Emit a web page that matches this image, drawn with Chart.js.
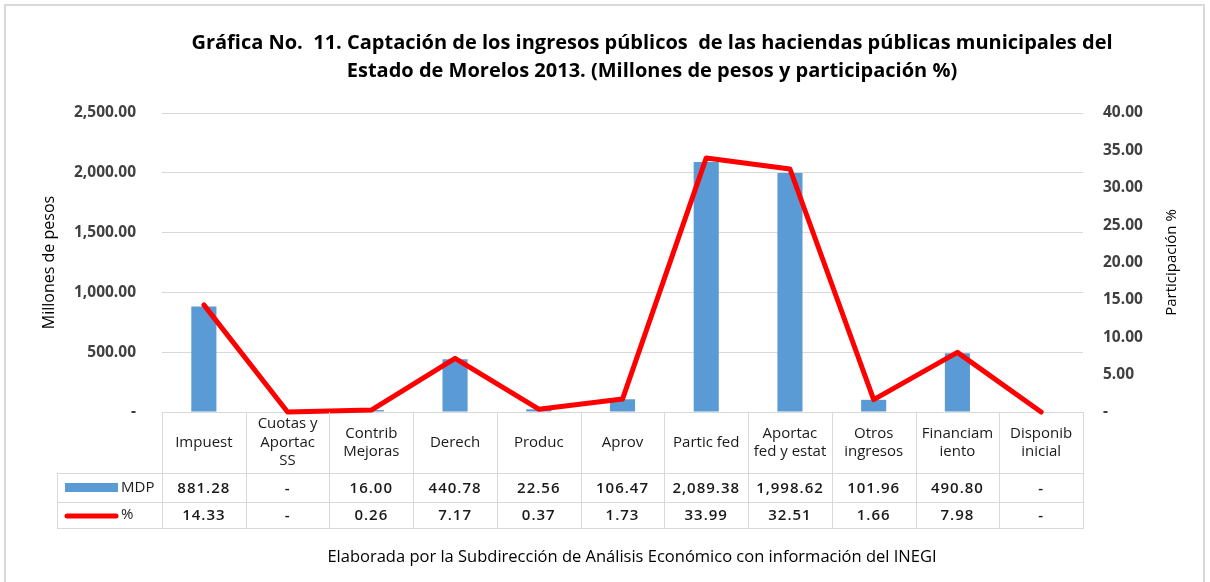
<!DOCTYPE html>
<html>
<head>
<meta charset="utf-8">
<script src="https://cdn.jsdelivr.net/npm/chart.js@4.4.1/dist/chart.umd.min.js"></script>
<style>
  body { margin: 0; background: #fff; }
  #wrap { position: relative; width: 1210px; height: 582px; overflow: hidden; }
  #frame { position: absolute; left: 4px; top: 4px; width: 1201px; height: 640px; border: 2px solid #d9d9d9; box-sizing: border-box; }
  #title { position: absolute; left: 94px; width: 1116px; top: 28px; text-align: center;
           font: bold 20px "Open Sans"; line-height: 28px; color: #000; }
  #foot { position: absolute; left: 54px; width: 1156px; top: 545px; text-align: center;
          font: 16.5px "Open Sans"; line-height: 22px; color: #000; }
  canvas { position: absolute; left: 0; top: 0; }
</style>
</head>
<body>
<div id="wrap">
  <div id="frame"></div>
  <canvas id="chart" width="1210" height="582"></canvas>
  <div id="title">Gráfica No.&nbsp; 11. Captación de los ingresos públicos&nbsp; de las haciendas públicas municipales del<br>Estado de Morelos 2013. (Millones de pesos y participación %)</div>
  <div id="foot">Elaborada por la Subdirección de Análisis Económico con información del INEGI</div>
</div>
<script>
// categories as they appear in the table header
const categories = [
  ["Impuest"],
  ["Cuotas y", "Aportac", "SS"],
  ["Contrib", "Mejoras"],
  ["Derech"],
  ["Produc"],
  ["Aprov"],
  ["Partic fed"],
  ["Aportac", "fed y estat"],
  ["Otros", "ingresos"],
  ["Financiam", "iento"],
  ["Disponib", "inicial"]
];
const mdp = [881.28, 0, 16.00, 440.78, 22.56, 106.47, 2089.38, 1998.62, 101.96, 490.80, 0];
const pct = [14.33, 0, 0.26, 7.17, 0.37, 1.73, 33.99, 32.51, 1.66, 7.98, 0];

const blue = "#5b9bd5";
const red = "#ff0000";
const gridColor = "#d9d9d9";

function fmt(v) {
  if (v === 0) return "-";
  return v.toLocaleString("en-US", { minimumFractionDigits: 2, maximumFractionDigits: 2 });
}

// draws the data table under the plot, lined up with the x scale
const tablePlugin = {
  id: "dataTable",
  afterDraw(chart) {
    const ctx = chart.ctx;
    const xs = chart.scales.x;
    const area = chart.chartArea;
    const top = area.bottom;
    const r1 = top + 61, r2 = r1 + 29, r3 = r2 + 26;
    const legLeft = 57;
    const half = (xs.getPixelForValue(1) - xs.getPixelForValue(0)) / 2;

    ctx.save();
    ctx.strokeStyle = gridColor;
    ctx.lineWidth = 1;
    ctx.beginPath();
    [r1, r2, r3].forEach(y => { ctx.moveTo(legLeft, y + 0.5); ctx.lineTo(area.right + 1, y + 0.5); });
    ctx.moveTo(legLeft + 0.5, r1); ctx.lineTo(legLeft + 0.5, r3);
    categories.forEach((c, i) => {
      const bx = Math.round(xs.getPixelForValue(i) - half) + 0.5;
      ctx.moveTo(bx, top); ctx.lineTo(bx, r3);
    });
    ctx.moveTo(Math.round(area.right) + 0.5, top); ctx.lineTo(Math.round(area.right) + 0.5, r3);
    ctx.stroke();

    // header labels
    ctx.fillStyle = "#1a1a1a";
    ctx.textAlign = "center";
    ctx.textBaseline = "middle";
    ctx.font = '15px "Open Sans"';
    const hc = (top + r1) / 2;
    const lh = 18.5;
    categories.forEach((lines, i) => {
      const cx = xs.getPixelForValue(i);
      const y0 = hc - (lines.length - 1) * lh / 2;
      lines.forEach((t, k) => ctx.fillText(t, cx, y0 + k * lh));
    });

    // value rows
    ctx.font = '600 15px "Open Sans"';
    ctx.letterSpacing = "1px";
    mdp.forEach((v, i) => ctx.fillText(fmt(v), xs.getPixelForValue(i), (r1 + r2) / 2 + 1));
    pct.forEach((v, i) => ctx.fillText(fmt(v), xs.getPixelForValue(i), (r2 + r3) / 2 + 1));
    ctx.letterSpacing = "0px";

    // legend keys
    ctx.fillStyle = blue;
    ctx.fillRect(65, r1 + 10, 53, 9);
    ctx.strokeStyle = red;
    ctx.lineWidth = 5;
    ctx.lineCap = "round";
    ctx.beginPath();
    ctx.moveTo(67, (r2 + r3) / 2 + 1); ctx.lineTo(116, (r2 + r3) / 2 + 1);
    ctx.stroke();
    ctx.fillStyle = "#1a1a1a";
    ctx.textAlign = "left";
    ctx.font = '15px "Open Sans"';
    ctx.fillText("MDP", 121, (r1 + r2) / 2);
    ctx.fillText("%", 121, (r2 + r3) / 2);

    // right axis title, reading upwards
    ctx.fillStyle = "#000";
    ctx.font = '15px "Open Sans"';
    ctx.textAlign = "center";
    ctx.translate(1172, (area.top + area.bottom) / 2);
    ctx.rotate(-Math.PI / 2);
    ctx.fillText("Participación %", 0, 0);
    ctx.restore();
  }
};

new Chart(document.getElementById("chart"), {
  type: "bar",
  data: {
    labels: categories,
    datasets: [
      {
        type: "line",
        label: "%",
        data: pct,
        yAxisID: "y1",
        borderColor: red,
        borderWidth: 5,
        borderJoinStyle: "round",
        borderCapStyle: "round",
        pointRadius: 0,
        tension: 0,
        clip: 10,
        order: 0
      },
      {
        type: "bar",
        label: "MDP",
        data: mdp,
        yAxisID: "y",
        backgroundColor: blue,
        categoryPercentage: 1,
        barPercentage: 0.3,
        order: 1
      }
    ]
  },
  options: {
    responsive: false,
    animation: false,
    layout: { padding: { left: 40, right: 20, top: 113, bottom: 170 } },
    plugins: { legend: { display: false }, tooltip: { enabled: false } },
    scales: {
      x: { display: false },
      y: {
        position: "left",
        min: 0, max: 2500,
        ticks: { stepSize: 500, padding: 26, color: "#404040",
                 font: { family: "Open Sans", size: 15.5, weight: "bold" }, callback: v => fmt(v) },
        grid: { color: gridColor, drawTicks: false },
        border: { display: false },
        title: { display: true, text: "Millones de pesos", color: "#000",
                 font: { family: "Open Sans", size: 16 }, padding: { top: 0, bottom: 0 } },
        afterFit: s => { s.width = 122; }
      },
      y1: {
        position: "right",
        min: 0, max: 40,
        ticks: { stepSize: 5, padding: 20, color: "#404040",
                 font: { family: "Open Sans", size: 15.5, weight: "bold" }, callback: v => fmt(v) },
        grid: { display: false, drawTicks: false },
        border: { display: false },
        afterFit: s => { s.width = 107; }
      }
    }
  },
  plugins: [tablePlugin]
});
</script>
</body>
</html>
